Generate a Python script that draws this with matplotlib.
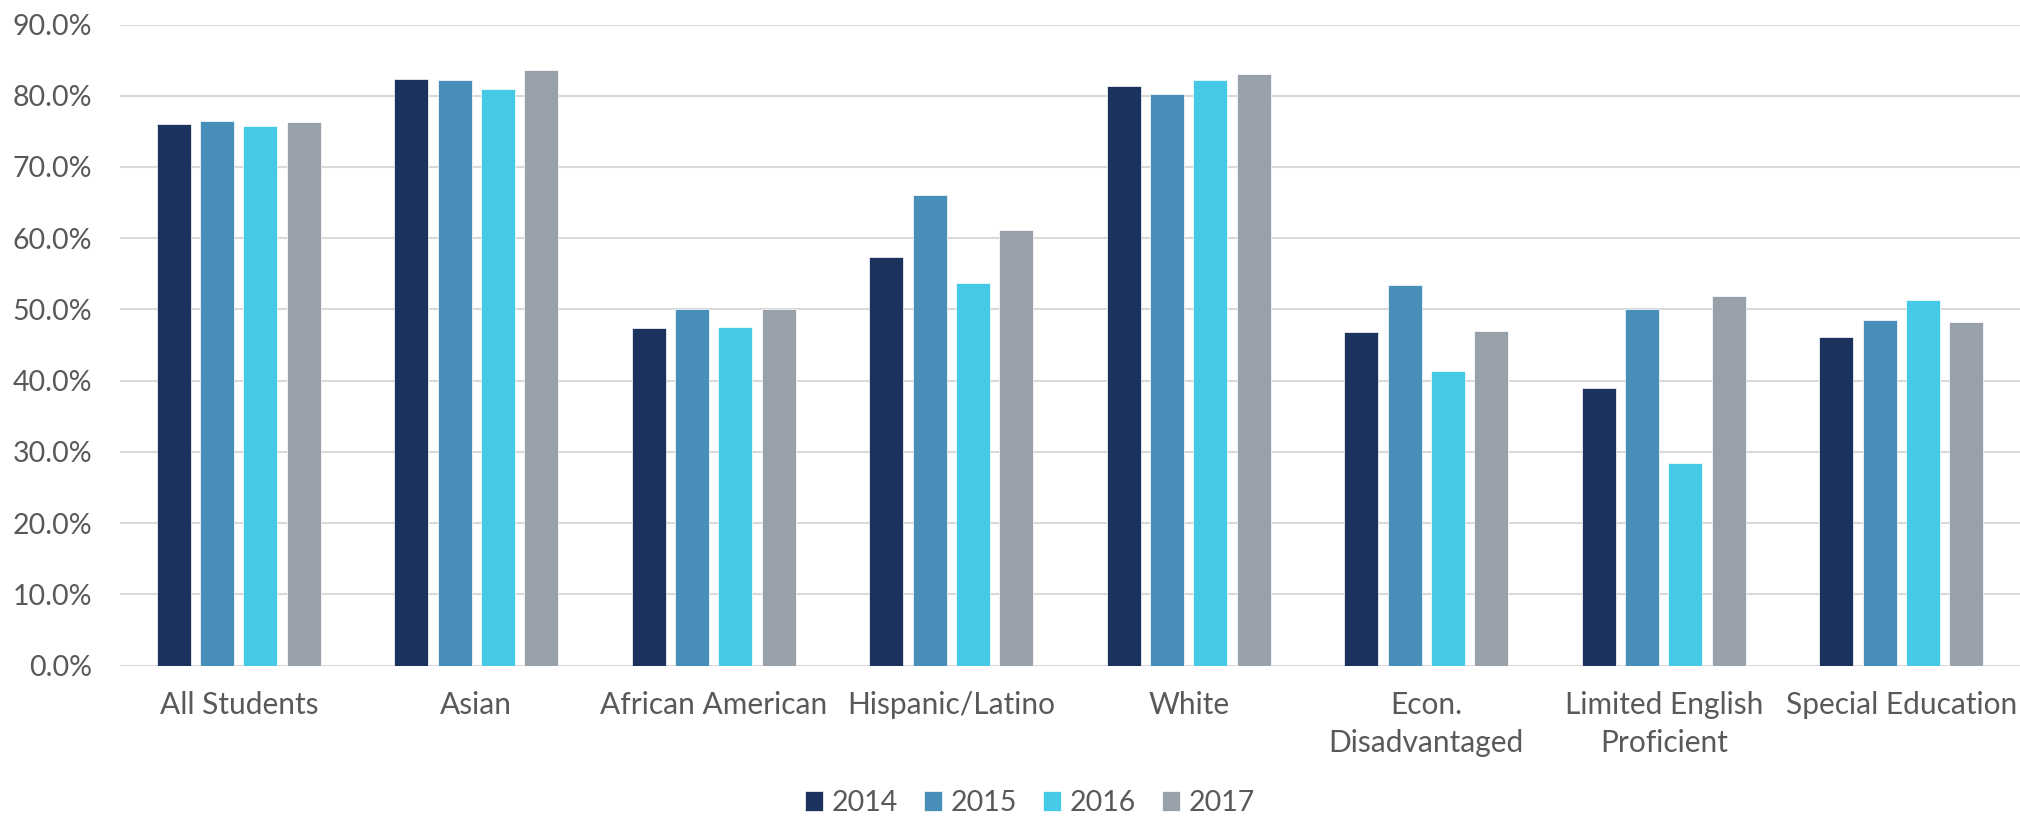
import numpy as np
import matplotlib
matplotlib.use("Agg")
import matplotlib.pyplot as plt
from matplotlib.ticker import FuncFormatter

groups = ["All Students", "Asian", "African American", "Hispanic/Latino", "White",
          "Econ.\nDisadvantaged", "Limited English\nProficient", "Special Education"]
years = ["2014", "2015", "2016", "2017"]

rate_2014 = [76.0, 82.4, 47.4, 57.3, 81.3, 46.9, 39.0, 46.1]
rate_2015 = [76.5, 82.2, 50.0, 66.1, 80.3, 53.4, 50.0, 48.5]
rate_2016 = [75.7, 81.0, 47.6, 53.7, 82.2, 41.3, 28.5, 51.3]
rate_2017 = [76.3, 83.6, 50.0, 61.1, 83.0, 47.0, 51.9, 48.3]

colors = ["#1B325F", "#478FB9", "#45C9E6", "#98A0A9"]
text_color = "#595959"

plt.rcParams["font.family"] = ["Lato", "DejaVu Sans"]

fig = plt.figure(figsize=(20.2, 8.17), dpi=100)
ax = fig.add_axes([120 / 2020, 151.3 / 817, 1900 / 2020, 641.2 / 817])

x = np.arange(len(groups))
step = 0.182
width = 0.143
series = [rate_2014, rate_2015, rate_2016, rate_2017]
for i, (vals, yr) in enumerate(zip(series, years)):
    ax.bar(x + (i - 1.5) * step, vals, width=width, color=colors[i],
           edgecolor="white", linewidth=0.5, label=yr, zorder=3)

ax.set_xlim(-0.5, len(groups) - 0.5)
ax.set_ylim(0, 90)
ax.set_yticks(np.arange(0, 91, 10))
ax.yaxis.set_major_formatter(FuncFormatter(lambda v, p: f"{v:.1f}%"))
ax.grid(axis="y", color="#D9D9D9", linewidth=1.5, zorder=0)
ax.set_axisbelow(True)
for s in ax.spines.values():
    s.set_visible(False)

ax.set_xticks(x)
ax.set_xticklabels(groups, fontsize=21.5, color=text_color, linespacing=1.45)
ax.tick_params(axis="x", length=0, pad=18)
ax.tick_params(axis="y", length=0, pad=20, labelsize=20.5, labelcolor=text_color)

leg = fig.legend(loc="center", bbox_to_anchor=(1030 / 2020, 1 - 803 / 817), ncol=4,
                 frameon=False, fontsize=20.5, handlelength=0.65, handleheight=0.65,
                 handletextpad=0.3, columnspacing=0.9, labelcolor=text_color)

fig.savefig("out.png", dpi=100)
